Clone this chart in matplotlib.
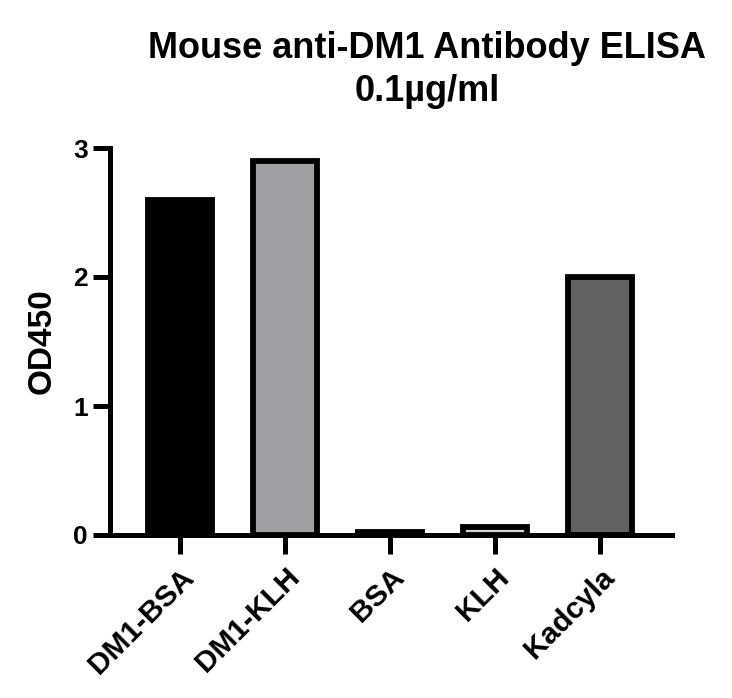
import matplotlib
matplotlib.use("Agg")
import matplotlib.pyplot as plt
import numpy as np

categories = ["DM1-BSA", "DM1-KLH", "BSA", "KLH", "Kadcyla"]
values = [2.60, 2.90, 0.02, 0.06, 2.00]
fills = ["#000000", "#a0a0a4", "#000000", "#d4d4d4", "#626262"]
yticks = [0, 1, 2, 3]
title = "Mouse anti-DM1 Antibody ELISA\n0.1µg/ml"
ylabel = "OD450"

plt.rcParams['font.family'] = ['Liberation Sans', 'DejaVu Sans']
plt.rcParams['font.weight'] = 'bold'

fig = plt.figure(figsize=(7.32, 6.98), dpi=100)
ax = fig.add_axes([110/732, 1-535/698, (672-110)/732, (535-148)/698])

x = np.arange(len(categories))
ax.bar(x, values, width=0.61, color=fills, edgecolor="black", linewidth=4.2, zorder=2)

ax.set_xlim(-0.667, 4.686)
ax.set_ylim(0, 3)
ax.set_yticks(yticks)
ax.set_xticks(x)
ax.set_xticklabels(categories, rotation=45, ha="right", rotation_mode="anchor",
                   fontsize=21.5, fontweight="bold")
ax.set_yticklabels([str(t) for t in yticks], fontsize=19, fontweight="bold")
ax.set_ylabel(ylabel, fontsize=24, fontweight="bold")
ax.yaxis.set_label_coords(-0.094, 0.5)

for s in ["top", "right"]:
    ax.spines[s].set_visible(False)
for s in ["left", "bottom"]:
    ax.spines[s].set_linewidth(3.6)
    ax.spines[s].set_zorder(3)
ax.tick_params(axis="both", width=3.6, length=12, pad=4)
ax.tick_params(axis="x", length=14, pad=6)

fig.text(427/732, 1-70/698, title, ha="center", va="center", fontsize=26,
         fontweight="bold", linespacing=1.3)

fig.savefig("out.png", dpi=100)
